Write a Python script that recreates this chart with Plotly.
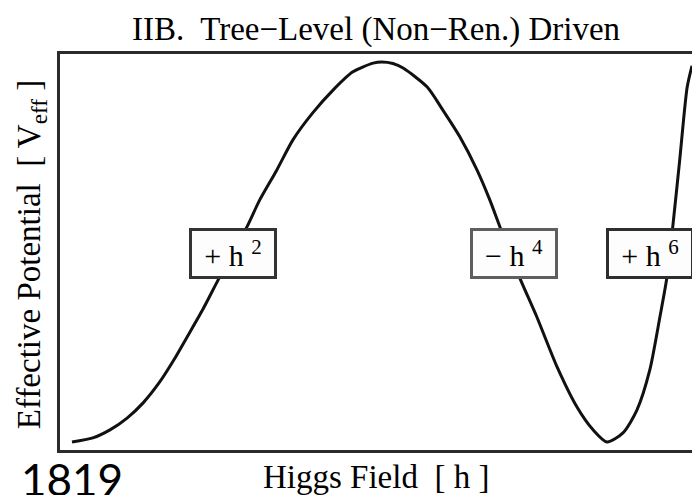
import plotly.graph_objects as go

# Higgs field value (arbitrary units) and effective potential (normalised)
higgs_field = [0.000, 0.039, 0.071, 0.103, 0.133, 0.164, 0.190, 0.215, 0.245,
               0.273, 0.300, 0.327, 0.351, 0.383, 0.413, 0.450, 0.488, 0.525,
               0.563, 0.579, 0.600, 0.619, 0.664, 0.693, 0.725, 0.757, 0.781,
               0.800, 0.837, 0.869, 0.907, 0.944, 0.974, 1.000, 1.030, 1.056,
               1.080, 1.099, 1.112, 1.123, 1.136, 1.150, 1.159]
potential = [0.000, 0.011, 0.032, 0.063, 0.103, 0.158, 0.215, 0.276, 0.350,
             0.426, 0.497, 0.566, 0.637, 0.716, 0.795, 0.866, 0.926, 0.974,
             0.997, 1.000, 0.996, 0.984, 0.934, 0.874, 0.803, 0.716, 0.637,
             0.566, 0.432, 0.329, 0.197, 0.092, 0.032, 0.000, 0.024, 0.084,
             0.189, 0.329, 0.432, 0.566, 0.742, 0.934, 0.990]

# Term labels and where they sit along the curve
term_labels = ["+ h <sup>2</sup>", "− h <sup>4</sup>", "+ h <sup>6</sup>"]
term_h = [0.301, 0.826, 1.080]
term_v = [0.497, 0.497, 0.497]
term_border = ["#333333", "#5e5e5e", "#2e2e2e"]

title_text = "IIB.  Tree−Level (Non−Ren.) Driven"
x_title = "Higgs Field  [ h ]"
y_title = "Effective Potential  [ V<sub>eff</sub> ]"
page_number = "1819"

serif = "Liberation Serif, Times New Roman, serif"

fig = go.Figure()
fig.add_trace(go.Scatter(
    x=higgs_field, y=potential, mode="lines",
    line=dict(color="#111111", width=3, shape="spline", smoothing=0.7),
    hoverinfo="skip", showlegend=False,
))

for txt, hx, vy, bc in zip(term_labels, term_h, term_v, term_border):
    fig.add_annotation(
        x=hx, y=vy, xref="x", yref="y", text=txt, showarrow=False,
        font=dict(family=serif, size=30, color="#000000"),
        bgcolor="#fdfdfd", bordercolor=bc, borderwidth=3, borderpad=2,
        width=78, height=41, align="center", valign="middle",
    )

fig.add_annotation(
    x=0.5, y=1, xref="paper", yref="paper", yshift=25,
    text=title_text, showarrow=False,
    font=dict(family=serif, size=33, color="#000000"),
    xanchor="center", yanchor="middle",
)
fig.add_annotation(
    x=0.5, y=0, xref="paper", yref="paper", yshift=-27,
    text=x_title, showarrow=False,
    font=dict(family=serif, size=33, color="#000000"),
    xanchor="center", yanchor="middle",
)
fig.add_annotation(
    x=0, y=0.492, xref="paper", yref="paper", xshift=-29,
    text=y_title, showarrow=False, textangle=-90,
    font=dict(family=serif, size=33, color="#000000"),
    xanchor="center", yanchor="middle",
)
fig.add_annotation(
    x=0, y=0, xref="paper", yref="paper", xshift=-41, yshift=-29,
    text=page_number, showarrow=False,
    font=dict(family="Lato, Open Sans, sans-serif", size=44, color="#000000"),
    xanchor="left", yanchor="middle",
)

fig.update_xaxes(
    range=[-0.0224, 1.159], showgrid=False, zeroline=False,
    showticklabels=False, ticks="", showline=True, mirror=True,
    linecolor="#2b2b2b", linewidth=3,
)
fig.update_yaxes(
    range=[-0.021, 1.021], showgrid=False, zeroline=False,
    showticklabels=False, ticks="", showline=True, mirror=False,
    linecolor="#2b2b2b", linewidth=3,
)

fig.update_layout(
    width=692, height=495,
    margin=dict(l=60, r=0, t=54, b=45),
    plot_bgcolor="#ffffff", paper_bgcolor="#ffffff",
)

fig.write_html("out.html")
